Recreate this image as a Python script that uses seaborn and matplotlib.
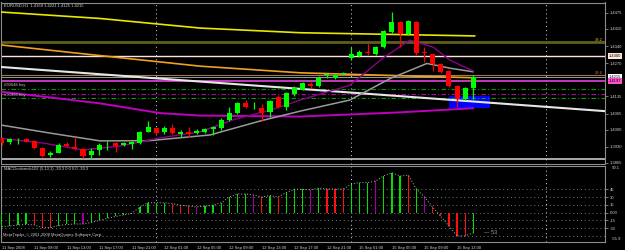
import matplotlib
matplotlib.use("Agg")
import matplotlib.pyplot as plt
import matplotlib.transforms as mtransforms
from matplotlib.patches import Rectangle
import numpy as np
import pandas as pd
import seaborn as sns

# ---------------- data ----------------
bars = list(range(59))
opens = [1.3964, 1.3948, 1.3956, 1.3960, 1.3953, 1.3924, 1.3897, 1.3906, 1.3940, 1.3929,
         1.3919, 1.3895, 1.3917, 1.3936, 1.3944, 1.3937, 1.3941, 1.3945, 1.3991, 1.4007,
         1.3989, 1.4006, 1.3982, 1.3989, 1.3985, 1.3989, 1.4001, 1.4005, 1.4039, 1.4066,
         1.4107, 1.4090, 1.4089, 1.4072, 1.4132, 1.4093, 1.4144, 1.4163, 1.4185, 1.4177,
         1.4222, 1.4211, 1.4226, 1.4290, 1.4299, 1.4316, 1.4307, 1.4334, 1.4395, 1.4438,
         1.4388, 1.4438, 1.4314, 1.4306, 1.4266, 1.4238, 1.4177, 1.4124, 1.4169]
highs = [1.3969, 1.3965, 1.3967, 1.3965, 1.3957, 1.3928, 1.3914, 1.3944, 1.3948, 1.3969,
         1.3926, 1.3924, 1.3944, 1.3953, 1.3948, 1.3948, 1.3954, 1.3995, 1.4035, 1.4011,
         1.4015, 1.4022, 1.3998, 1.4009, 1.4001, 1.4005, 1.4015, 1.4046, 1.4093, 1.4113,
         1.4120, 1.4113, 1.4104, 1.4120, 1.4140, 1.4152, 1.4177, 1.4193, 1.4193, 1.4218,
         1.4231, 1.4226, 1.4235, 1.4337, 1.4323, 1.4351, 1.4340, 1.4405, 1.4479, 1.4441,
         1.4445, 1.4441, 1.4337, 1.4311, 1.4270, 1.4242, 1.4181, 1.4172, 1.4221]
lows = [1.3937, 1.3941, 1.3940, 1.3948, 1.3921, 1.3889, 1.3887, 1.3903, 1.3930, 1.3917,
        1.3883, 1.3879, 1.3897, 1.3917, 1.3907, 1.3934, 1.3919, 1.3940, 1.3989, 1.3980,
        1.3980, 1.3980, 1.3971, 1.3971, 1.3980, 1.3985, 1.3978, 1.3998, 1.4035, 1.4063,
        1.4086, 1.4082, 1.4036, 1.4052, 1.4087, 1.4079, 1.4136, 1.4161, 1.4169, 1.4173,
        1.4211, 1.4207, 1.4222, 1.4285, 1.4295, 1.4303, 1.4303, 1.4331, 1.4391, 1.4337,
        1.4384, 1.4303, 1.4276, 1.4239, 1.4231, 1.4173, 1.4093, 1.4120, 1.4125]
closes = [1.3944, 1.3960, 1.3958, 1.3950, 1.3926, 1.3893, 1.3906, 1.3938, 1.3933, 1.3919,
          1.3892, 1.3914, 1.3936, 1.3938, 1.3934, 1.3944, 1.3948, 1.3992, 1.4010, 1.3988,
          1.4005, 1.3987, 1.3989, 1.3980, 1.3994, 1.4001, 1.4011, 1.4041, 1.4068, 1.4109,
          1.4090, 1.4093, 1.4068, 1.4117, 1.4090, 1.4148, 1.4169, 1.4188, 1.4178, 1.4211,
          1.4226, 1.4222, 1.4231, 1.4306, 1.4316, 1.4310, 1.4334, 1.4402, 1.4438, 1.4388,
          1.4441, 1.4312, 1.4310, 1.4266, 1.4235, 1.4177, 1.4124, 1.4168, 1.4215]

# indicator lines (bar position, price)
yellow_ma_x = [0, 12.1, 24.4, 36.7, 58.2]
yellow_ma_y = [1.4478, 1.4452, 1.4413, 1.4394, 1.4381]
orange_ma_x = [0, 12.1, 24.4, 36.7, 49, 58]
orange_ma_y = [1.4344, 1.4301, 1.4258, 1.4231, 1.4219, 1.4211]
gray_ma_x = [0, 5.9, 12.1, 18.2, 25.6, 31.8, 36.7, 42.8, 47.8, 52.3, 55.1, 58]
gray_ma_y = [1.4018, 1.3986, 1.3954, 1.3955, 1.3978, 1.4035, 1.4075, 1.4120, 1.4208, 1.4269, 1.4250, 1.4235]
fast_ma_x = [0, 5.1, 10, 14.6, 19.1, 24.4, 28.4, 33, 36.7, 42.8, 46.9, 50.2, 53.1, 55.1, 58]
fast_ma_y = [1.3964, 1.3945, 1.3917, 1.3933, 1.3964, 1.3991, 1.4039, 1.4079, 1.4120, 1.4180,
             1.4291, 1.4364, 1.4335, 1.4283, 1.4238]
slow_ma_x = [0, 12, 19.5, 24.4, 36.7, 49, 58]
slow_ma_y = [1.4154, 1.4107, 1.4067, 1.4057, 1.4053, 1.4070, 1.4087]
trend_x = [-0.21, 74.2]
trend_y = [1.4255, 1.4075]

fib_382 = 1.4356
level_1430 = 1.4300
fib_236 = 1.4224
bid_price = 1.4215
pink_level = 1.4197
order_green = [1.4167, 1.4127]
order_magenta = 1.4143
bottom_level = 1.3880
box_x = [55.0, 60.06]
box_y = [1.4086, 1.4138]

price_ticks = [1.4475, 1.4410, 1.4340, 1.4270, 1.4135, 1.4065, 1.4000, 1.3930, 1.3865]
day_separators = [19, 43, 67]

time_label_bars = [0, 4, 8, 12, 16, 20, 24, 28, 32, 36, 40, 44, 48, 52, 56]
time_labels = ["11 Sep 2008", "11 Sep 09:00", "11 Sep 13:00", "11 Sep 17:00", "11 Sep 21:00",
               "12 Sep 01:00", "12 Sep 05:00", "12 Sep 09:00", "12 Sep 13:00", "12 Sep 17:00",
               "12 Sep 21:00", "15 Sep 01:00", "15 Sep 05:00", "15 Sep 09:00", "15 Sep 13:00"]

macd = [-27, -26, -24, -23, -24, -29, -29, -25, -23, -22, -22, -19, -15, -11, -7.5, -4.5, -1.5,
        11, 19, 19, 19, 17.5, 14, 12.5, 11, 12.5, 14, 19, 30, 36, 36, 34, 30, 33, 30, 39, 45,
        45, 44, 47.5, 45.6, 45.6, 45.6, 55, 58, 58, 61, 71, 77,
        70.6, 72.5, 45.6, 30, 11, -7.5, -26, -45, -45, -39.3]
macd_state = list("ggggrrrgggpgggggggggg" "rrrpggggggprgrgggpgrrrgggpggg" "rgprrrrrg")
macd_levels = [45, 30, 15, 0, -15, -30, -45]

# ---------------- style ----------------
sns.set_theme(style="dark")
plt.rcParams['font.family'] = ['Liberation Sans', 'DejaVu Sans']

W, H = 625, 250
fig = plt.figure(figsize=(W / 100, H / 100), dpi=100, facecolor='black')


def box(l, t, r, b):
    return [l / W, 1 - b / H, (r - l) / W, (b - t) / H]


ax = fig.add_axes(box(1.5, 2.5, 605, 163.5))
ax2 = fig.add_axes(box(1.5, 166, 605, 241.5), sharex=ax)
for a in (ax, ax2):
    a.set_facecolor('black')
    a.grid(False)
    for s in a.spines.values():
        s.set_color('#8c8c8c')
        s.set_linewidth(0.8)

ax.set_xlim(-0.025, 74.2)
ax.set_ylim(1.3862, 1.4517)
ax2.set_ylim(-55.9, 90.1)

FS = 3.0
LC = '#d2d2d2'
DOT = (0, (1, 3))

# ---------------- main panel ----------------
for d in day_separators:
    ax.axvline(d, color='#c8c8c8', ls=DOT, lw=0.75, zorder=1)
    ax2.axvline(d, color='#c8c8c8', ls=DOT, lw=0.75, zorder=1)

ax.add_patch(Rectangle((box_x[0], box_y[0]), box_x[1] - box_x[0], box_y[1] - box_y[0],
                       facecolor='#0000ff', edgecolor='none', zorder=1.5))

ax.axhline(fib_382, color='#5f5f1c', lw=2.0, zorder=2)
ax.axhline(level_1430, color='#ffe4dc', lw=1.0, zorder=2)
ax.axhline(fib_236, color='#9c7a50', lw=0.8, zorder=2)
ax.axhline(bid_price, color='#9a9a9a', lw=0.7, zorder=2)
ax.axhline(pink_level, color='#d040c8', lw=1.3, zorder=2)
for g in order_green:
    ax.axhline(g, color='#00a000', lw=0.8, ls=(0, (4, 2, 1, 2)), zorder=2)
ax.axhline(order_magenta, color='#b000a0', lw=0.8, ls=(0, (4, 2, 1, 2)), zorder=2)
ax.axhline(bottom_level, color='#d8d8d8', lw=1.1, zorder=2)

line_kw = dict(ax=ax, estimator=None, sort=False, legend=False)
sns.lineplot(x=trend_x, y=trend_y, color='#e6e6e6', lw=1.5, zorder=3, **line_kw)
sns.lineplot(x=yellow_ma_x, y=yellow_ma_y, color='#e8e800', lw=1.2, zorder=3, **line_kw)
sns.lineplot(x=orange_ma_x, y=orange_ma_y, color='#f0a020', lw=1.2, zorder=3, **line_kw)
sns.lineplot(x=slow_ma_x, y=slow_ma_y, color='#c000c0', lw=1.4, zorder=3, **line_kw)
sns.lineplot(x=gray_ma_x, y=gray_ma_y, color='#9a9a9a', lw=1.1, zorder=3, **line_kw)
sns.lineplot(x=fast_ma_x, y=fast_ma_y, color='#8c008c', lw=1.0, zorder=3, **line_kw)

df = pd.DataFrame(dict(bar=bars, open=opens, high=highs, low=lows, close=closes))
up = df['close'] >= df['open']
cols = np.where(up, '#00ff00', '#ff0000')
ax.vlines(df['bar'], df['low'], df['high'], colors=cols, lw=0.9, zorder=5)
body = (df['close'] - df['open']).abs().clip(lower=0.00012)
ax.bar(df['bar'], body, bottom=np.minimum(df['open'], df['close']), width=0.62,
       color=cols, lw=0, zorder=6)

ax.yaxis.tick_right()
ax.set_yticks(price_ticks)
ax.set_yticklabels([f"{p:.4f}" for p in price_ticks])
ax.tick_params(axis='y', labelsize=FS, length=2, width=0.6, pad=1.5, color='#8c8c8c',
               labelcolor=LC, direction='out')
ax.tick_params(axis='x', bottom=False, labelbottom=False)
ax.set_xlabel('')
ax.set_ylabel('')

trans = mtransforms.blended_transform_factory(ax.transAxes, ax.transData)
for val, fc in [(level_1430, '#ffe8dc'), (bid_price, '#ffffff'), (pink_level, '#ff50d0')]:
    ax.text(1.006, val, f"{val:.4f}", transform=trans, fontsize=FS, color='black',
            va='center', ha='left', zorder=10, clip_on=False,
            bbox=dict(boxstyle='square,pad=0.2', fc=fc, ec='none'))

ax.text(73.9, fib_382, '38.2', ha='right', va='bottom', color='#c8c83c', fontsize=FS, zorder=8)
ax.text(73.9, fib_236, '23.6', ha='right', va='bottom', color='#c87832', fontsize=FS, zorder=8)
ax.text(0.3, 1.4181, '#90648 buy', ha='left', va='center', color='#bcbcbc', fontsize=FS, zorder=8)
ax.text(0.3, 1.4140, '#90938 buy', ha='left', va='center', color='#bcbcbc', fontsize=FS, zorder=8)

fig.text(4 / W, 1 - 5.5 / H, 'EURUSD,H1  1.4169 1.4221 1.4125 1.4215', color=LC,
         fontsize=FS, ha='left', va='center')

# ---------------- MACD panel ----------------
for lv in macd_levels:
    ax2.axhline(lv, color='#7a7a7a', ls=DOT, lw=0.7, zorder=1)
cmap = {'g': '#00e000', 'r': '#ff1010', 'p': '#a000a0'}
mcols = [cmap[s] for s in macd_state]
ax2.bar(bars, macd, width=0.15, color=mcols, lw=0, zorder=3)
sns.lineplot(x=bars, y=macd, ax=ax2, color='#b4b4b4', lw=0.7, ls=(0, (1, 2)),
             estimator=None, sort=False, legend=False, zorder=4)

ax2.yaxis.tick_right()
ax2.set_yticks([45, 30, 15, 0, -15, -30])
ax2.set_yticklabels(['45', '30', '15', '0.00', '-15', '-30'])
ax2.tick_params(axis='y', labelsize=FS, length=2, width=0.6, pad=1.5, color='#8c8c8c',
                labelcolor=LC, direction='out')
trans2 = mtransforms.blended_transform_factory(ax2.transAxes, ax2.transData)
ax2.text(1.012, 90.1, '90.1', transform=trans2, fontsize=FS, color=LC, va='top', ha='left')
ax2.text(1.012, -55.9, '-55.9', transform=trans2, fontsize=FS, color=LC, va='bottom', ha='left')

ax2.set_xticks(time_label_bars)
ax2.set_xticklabels(time_labels, ha='left')
ax2.tick_params(axis='x', labelsize=FS, length=2, width=0.6, pad=1, color='#8c8c8c',
                labelcolor=LC, direction='out')
ax2.set_xlabel('')
ax2.set_ylabel('')

ax2.text(0.3, 84, 'MACDcoloredv102 (5,13,1) -39.3 0.0 0.0 -39.3', color=LC, fontsize=FS,
         ha='left', va='center')
ax2.text(0.2, -43.5, 'MetaTrader, © 2001-2008 MetaQuotes Software Corp.', color=LC,
         fontsize=FS, ha='left', va='center')
ax2.text(59.3, -38, '\u2014 53', color='#a0a0a0', fontsize=4, ha='left', va='center')

fig.savefig('out.png', dpi=100, facecolor='black')
